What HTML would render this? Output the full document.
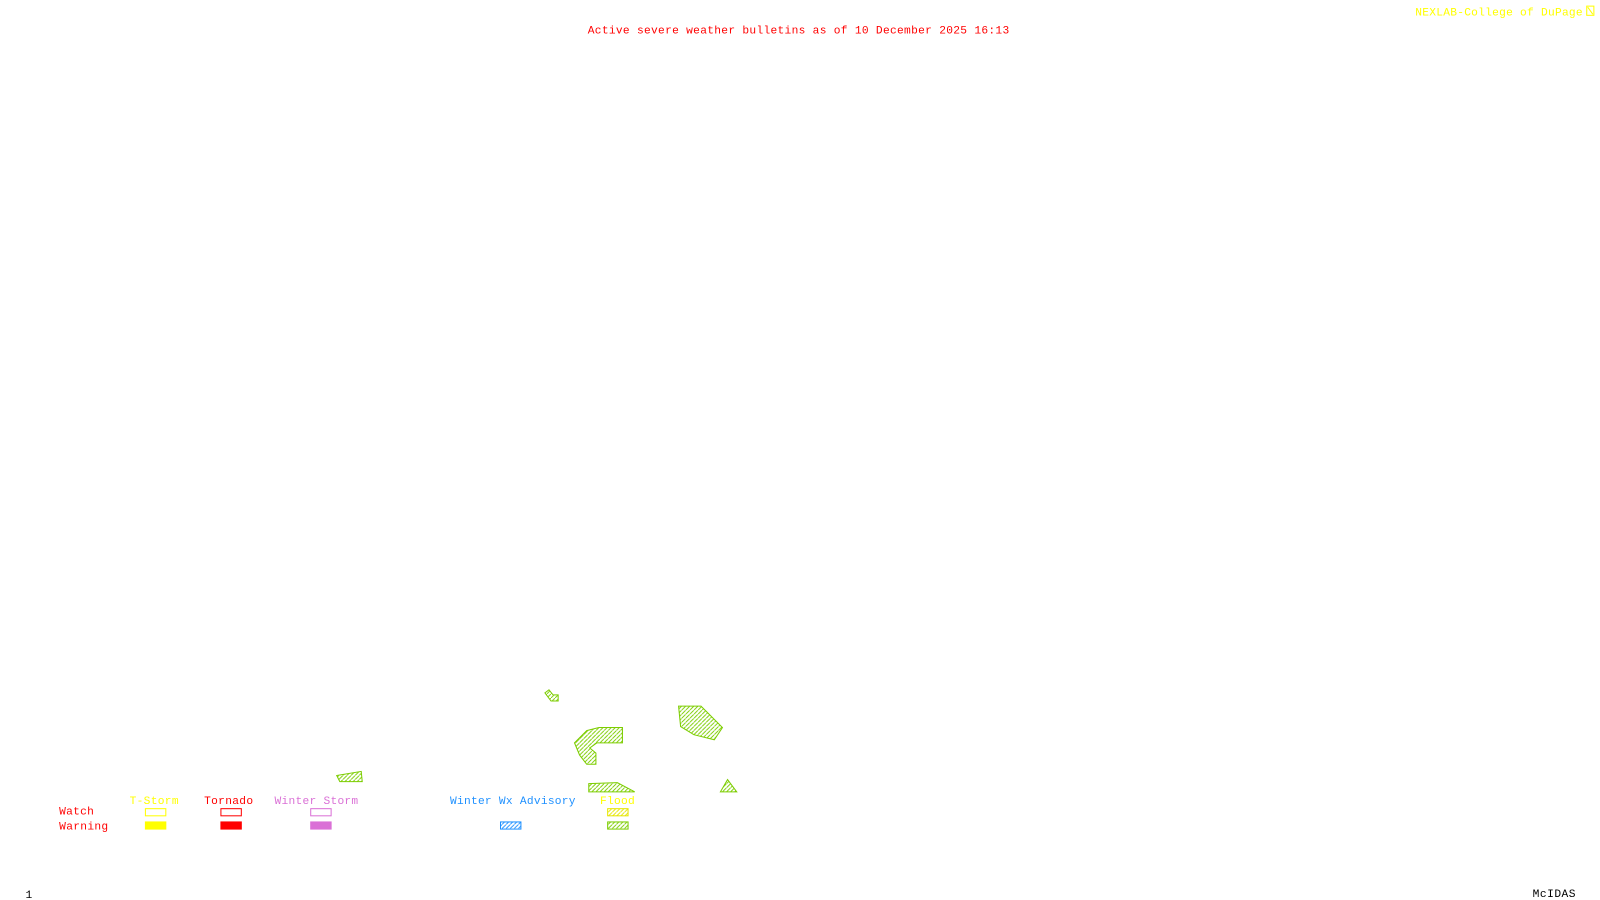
<!DOCTYPE html>
<html><head><meta charset="utf-8"><style>
html,body{margin:0;padding:0;background:#fff;width:1600px;height:900px;overflow:hidden}
text{font-family:"Liberation Mono",monospace;font-size:11px}
</style></head><body>
<svg width="1600" height="900" viewBox="0 0 1568 882" xmlns="http://www.w3.org/2000/svg">
<defs>
<pattern id="hg" width="4" height="4" patternUnits="userSpaceOnUse"><path d="M-1,5 L5,-1" stroke="#7ccd00" stroke-width="0.9"/></pattern>
<pattern id="hy" width="4" height="4" patternUnits="userSpaceOnUse"><path d="M-1,5 L5,-1" stroke="#e6e600" stroke-width="0.9"/></pattern>
<pattern id="hb" width="4" height="4" patternUnits="userSpaceOnUse"><path d="M-1,5 L5,-1" stroke="#1e90ff" stroke-width="0.9"/></pattern>
</defs>
<rect width="1568" height="882" fill="#fff"/>
<text x="576" y="33" fill="#ff0000" textLength="413">Active severe weather bulletins as of 10 December 2025 16:13</text>
<text x="1387" y="15" fill="#ffff00" textLength="164">NEXLAB-College of DuPage</text>
<rect x="1555" y="6" width="7" height="9" fill="none" stroke="#ffff00"/>
<path d="M1556,7 L1561,14" stroke="#ffff00"/>
<text x="25" y="880" fill="#000" font-size="10">1</text>
<text x="1502" y="879" fill="#000" textLength="42">McIDAS</text>
<g fill="url(#hg)" stroke="#7ccd00" stroke-width="1">
<polygon points="534,679 538,676 542,681 547,681 547,687 540,687"/>
<polygon points="563,728 575,716 587,713 610,713 610,728 585,728 578,733 584,738 584,749 575,749 568,740"/>
<polygon points="665,692 687,692 708,713 700,725 680,720 667,712"/>
<polygon points="330,760 354,756 355,766 333,766"/>
<polygon points="577,776 577,768 605,767 622,776"/>
<polygon points="706,776 713,764 722,776"/>
</g>
<text x="127" y="788" fill="#ffff00" textLength="48">T-Storm</text>
<text x="200" y="788" fill="#ff0000" textLength="48">Tornado</text>
<text x="269" y="788" fill="#da70d6" textLength="82">Winter Storm</text>
<text x="441" y="788" fill="#1e90ff" textLength="123">Winter Wx Advisory</text>
<text x="588" y="788" fill="#ffff00" textLength="34">Flood</text>
<text x="58" y="798" fill="#ff0000" textLength="34">Watch</text>
<text x="58" y="813" fill="#ff0000" textLength="48">Warning</text>
<rect x="142.5" y="792.5" width="20" height="7" fill="none" stroke="#ffff00"/>
<rect x="216.5" y="792.5" width="20" height="7" fill="none" stroke="#ff0000"/>
<rect x="304.5" y="792.5" width="20" height="7" fill="none" stroke="#da70d6"/>
<rect x="595.5" y="792.5" width="20" height="7" fill="url(#hy)" stroke="#e6e600"/>
<rect x="142" y="805" width="21" height="8" fill="#ffff00"/>
<rect x="216" y="805" width="21" height="8" fill="#ff0000"/>
<rect x="304" y="805" width="21" height="8" fill="#da70d6"/>
<rect x="490.5" y="805.5" width="20" height="7" fill="url(#hb)" stroke="#1e90ff"/>
<rect x="595.5" y="805.5" width="20" height="7" fill="url(#hg)" stroke="#7ccd00"/>
</svg>
</body></html>
